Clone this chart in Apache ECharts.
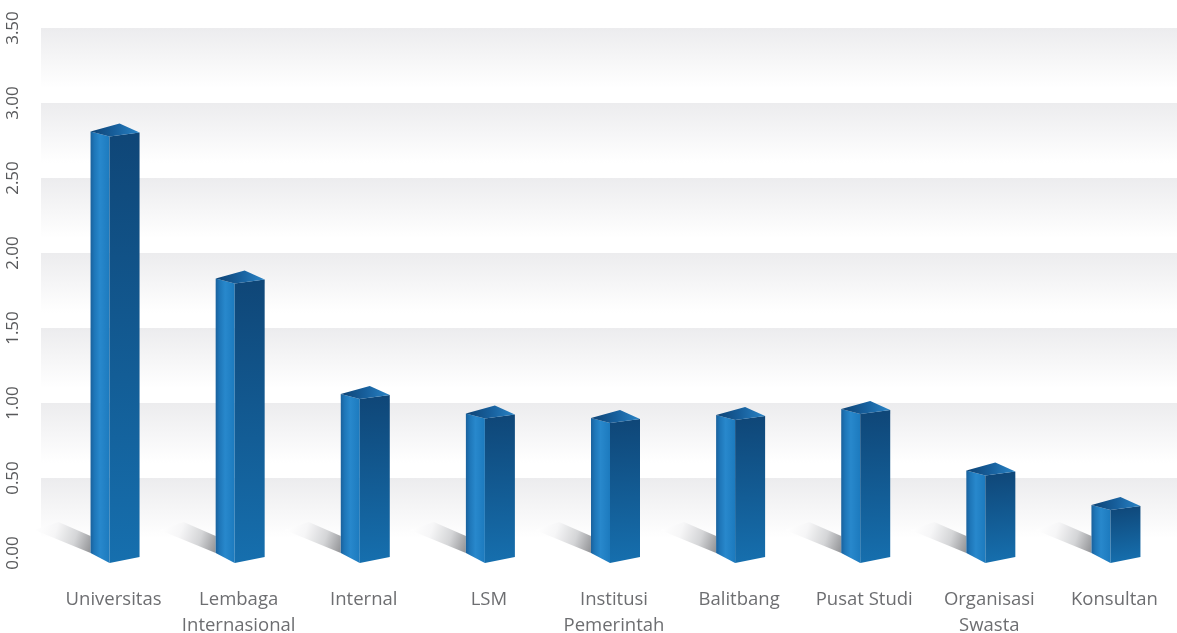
<!DOCTYPE html>
<html>
<head>
<meta charset="utf-8">
<script src="https://cdn.jsdelivr.net/npm/echarts@6/dist/echarts.min.js"></script>
<style>
  html, body { margin: 0; padding: 0; background: #ffffff; }
  #chart { width: 1177px; height: 633px; }
</style>
</head>
<body>
<div id="chart"></div>
<script>
// Categories and values
const categories = [
  'Universitas',
  'Lembaga\nInternasional',
  'Internal',
  'LSM',
  'Institusi\nPemerintah',
  'Balitbang',
  'Pusat Studi',
  'Organisasi\nSwasta',
  'Konsultan'
];
const values = [2.81, 1.83, 1.06, 0.93, 0.90, 0.92, 0.96, 0.55, 0.32];

// Value axis ticks
const yMin = 0;
const yMax = 3.5;
const yStep = 0.5;

const G = echarts.graphic;
const font = '"Open Sans", "Noto Sans", sans-serif';

// Soft grey band that fades to white below each gridline
const bandFill = new G.LinearGradient(0, 0, 0, 1, [
  { offset: 0, color: '#ececee' },
  { offset: 0.8, color: '#ffffff' },
  { offset: 1, color: '#ffffff' }
]);

// Pseudo-3D prism for each value, with a floor shadow on its left
function renderPrism(params, api) {
  const base = api.coord([api.value(0), 0]);
  const top = api.coord([api.value(0), api.value(1)]);
  const L = base[0] - 23;   // left corner
  const F = L + 19;         // front edge
  const R = F + 30;         // right corner
  const B = L + 29;         // back corner
  const b = base[1];
  const t = top[1];

  return {
    type: 'group',
    children: [
      {
        type: 'polygon',
        shape: { points: [[L - 32, b - 31], [L, b - 17], [L, b], [L - 56, b - 23]] },
        style: {
          fill: new G.LinearGradient(0, 0.2, 1, 0.85, [
            { offset: 0, color: '#ffffff' },
            { offset: 0.35, color: '#f6f6f7' },
            { offset: 0.7, color: '#d4d5d7' },
            { offset: 1, color: '#96979a' }
          ])
        }
      },
      {
        type: 'polygon',
        shape: { points: [[L, t], [F, t + 5], [F, b + 10], [L, b]] },
        style: {
          fill: new G.LinearGradient(0, 0, 1, 0, [
            { offset: 0, color: '#1a619c' },
            { offset: 0.2, color: '#1e76b8' },
            { offset: 0.5, color: '#2888cc' },
            { offset: 1, color: '#1c7abe' }
          ])
        }
      },
      {
        type: 'polygon',
        shape: { points: [[F, t + 5], [R, t + 1], [R, b + 4], [F, b + 10]] },
        style: {
          fill: new G.LinearGradient(0, 0, 0.3, 1, [
            { offset: 0, color: '#0f4677' },
            { offset: 1, color: '#166fae' }
          ])
        }
      },
      {
        type: 'polygon',
        shape: { points: [[L, t], [F, t + 5], [R, t + 1], [B, t - 8]] },
        style: {
          fill: new G.LinearGradient(0, 0, 1, 0, [
            { offset: 0, color: '#0e4374' },
            { offset: 0.5, color: '#175f9c' },
            { offset: 1, color: '#2a84c6' }
          ])
        }
      }
    ]
  };
}

const chart = echarts.init(document.getElementById('chart'), null, { renderer: 'canvas' });

chart.setOption({
  animation: false,
  backgroundColor: '#ffffff',
  grid: [
    { left: 41, right: 0, top: 28, bottom: 80, outerBoundsMode: 'none', containLabel: false },
    { left: 51, right: 0, top: 28, bottom: 80, outerBoundsMode: 'none', containLabel: false }
  ],
  xAxis: [
    {
      gridIndex: 0,
      type: 'category',
      data: categories,
      show: false
    },
    {
      gridIndex: 1,
      type: 'category',
      data: categories,
      axisLine: { show: false },
      axisTick: { show: false },
      axisLabel: {
        margin: 34,
        color: '#6d6e71',
        fontFamily: font,
        fontSize: 18.5,
        lineHeight: 26,
        interval: 0
      }
    }
  ],
  yAxis: [
    {
      gridIndex: 0,
      type: 'value',
      min: yMin,
      max: yMax,
      interval: yStep,
      axisLine: { show: false },
      axisTick: { show: false },
      splitLine: { show: false },
      splitArea: {
        show: true,
        areaStyle: { color: [bandFill, bandFill] }
      },
      axisLabel: {
        rotate: 90,
        margin: 19,
        color: '#58595b',
        fontFamily: font,
        fontSize: 17,
        formatter: v => v.toFixed(2)
      }
    },
    {
      gridIndex: 1,
      type: 'value',
      min: yMin,
      max: yMax,
      interval: yStep,
      show: false
    }
  ],
  series: [
    {
      type: 'custom',
      xAxisIndex: 1,
      yAxisIndex: 1,
      renderItem: renderPrism,
      encode: { x: 0, y: 1 },
      data: values.map((v, i) => [i, v])
    }
  ]
});
</script>
</body>
</html>
